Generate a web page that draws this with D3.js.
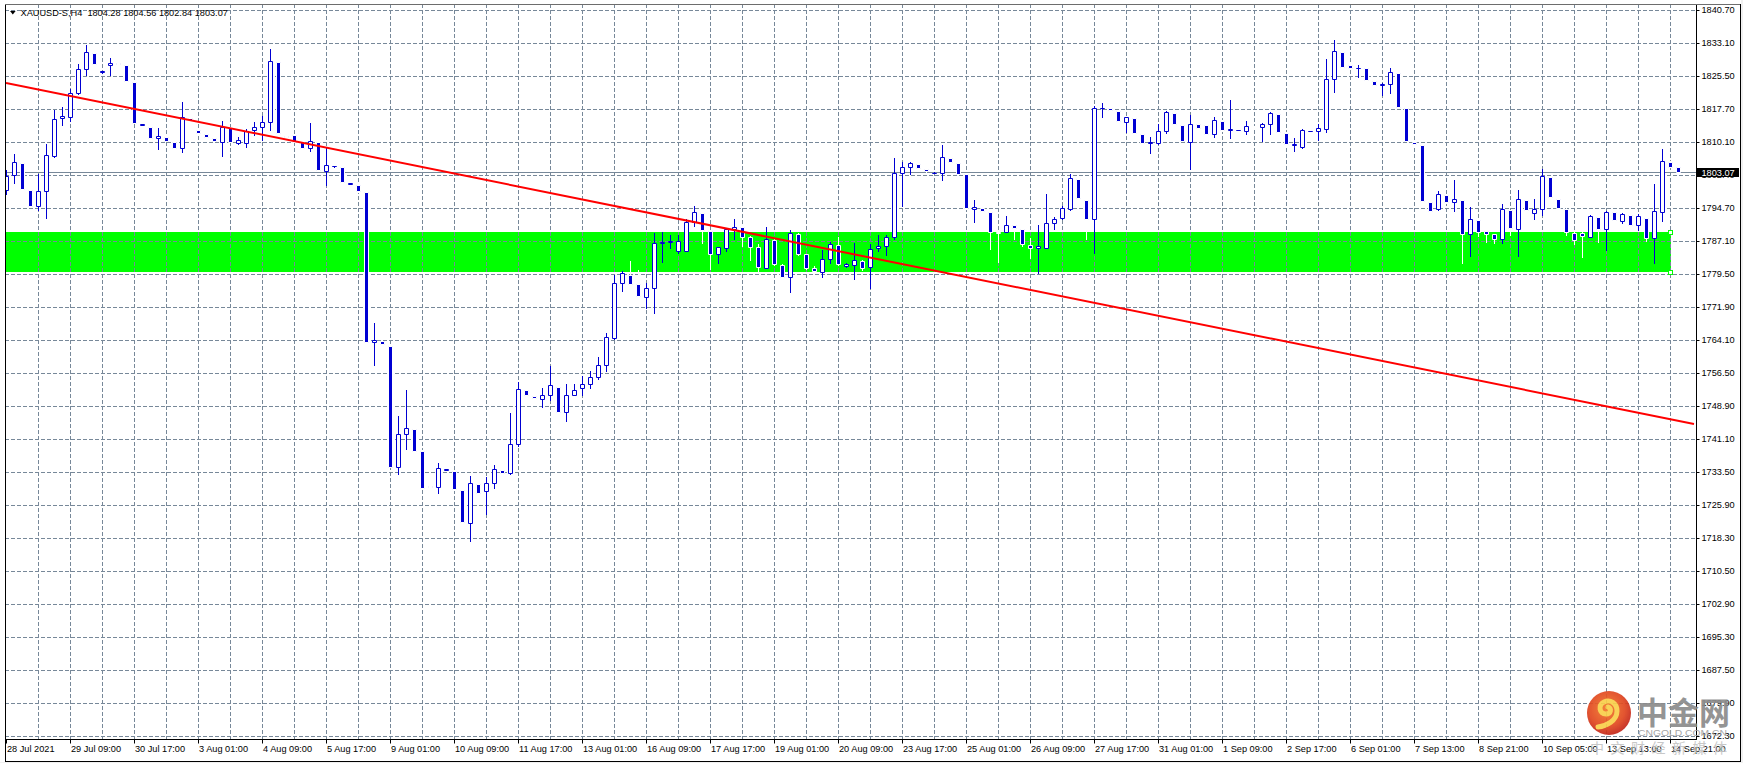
<!DOCTYPE html>
<html><head><meta charset="utf-8">
<script src="https://cdn.jsdelivr.net/npm/d3@7"></script>
<style>html,body{margin:0;padding:0;background:#fff;overflow:hidden}svg{display:block}</style>
</head><body>
<script>
// ---- data (H4 bars, 28 Jul 2021 01:00 .. 15 Sep 2021 01:00) ----
const opens = [1798.95,1802.35,1805.21,1798.95,1795.16,1798.64,1806.76,1815.57,1815.96,1821.37,
1826.94,1830.73,1826.35,1828.0,1828.4,1828.02,1824.00,1814.1,1813.56,1810.93,
1811.24,1810.08,1808.61,1815.65,1812.86,1811.86,1810.93,1810.16,1813.25,1809.93,
1809.93,1812.79,1813.48,1814.64,1828.64,1811.4,1811.7,1810.16,1808.61,1810.0,
1803.43,1804.4,1804.28,1800.45,1800.10,1798.48,1763.61,1763.84,1762.76,1734.62,
1742.27,1743.51,1738.41,1730.2,1729.98,1734.1,1733.77,1729.37,1721.79,1730.76,
1729.21,1730.91,1733.99,1733.22,1739.95,1752.55,1751.16,1750.39,1751.32,1753.33,
1747.38,1751.32,1752.94,1753.87,1755.65,1758.28,1764.70,1777.45,1779.31,1777.14,
1774.21,1776.14,1786.6,1786.9,1784.80,1784.80,1791.45,1793.53,1789.44,1784.02,
1785.57,1789.82,1790.29,1787.97,1785.80,1780.93,1787.35,1781.55,1778.69,1788.74,
1784.02,1780.78,1780.0,1782.86,1786.19,1781.32,1781.5,1782.56,1781.01,1785.42,
1786.04,1787.97,1802.97,1804.20,1804.90,1803.74,1802.9,1802.81,1806.29,1805.13,
1802.66,1794.46,1794.70,1793.77,1789.3,1789.13,1790.75,1789.90,1786.19,1785.42,
1785.57,1791.22,1792.37,1794.46,1801.42,1796.63,1792.14,1817.9,1817.89,1817.27,
1814.80,1815.57,1811.86,1809.9,1809.77,1812.56,1816.73,1813.95,1810.16,1814.18,
1813.95,1811.86,1814.95,1812.8,1812.8,1812.56,1813.6,1813.48,1814.18,1816.50,
1812.09,1809.5,1809.0,1812.6,1812.56,1813.17,1824.62,1830.96,1827.94,1827.2,
1827.17,1824.23,1823.3,1823.46,1826.01,1817.89,1810.0,1809.31,1796.09,1794.54,
1797.71,1796.09,1796.55,1788.66,1791.91,1789.36,1788.66,1787.50,1794.23,1789.98,
1796.55,1793.69,1794.46,1801.96,1796.86,1794.54,1788.9,1789.05,1788.12,1792.61,
1789.82,1793.77,1791.83,1793.15,1790.83,1792.45,1787.74,1793.92,1805.44,1804.28];
const highs = [1803.59,1807.30,1805.4,1799.2,1802.66,1809.54,1817.50,1818.20,1822.30,1828.17,
1832.58,1831.2,1826.6,1829.6,1828.6,1828.3,1824.2,1814.3,1813.8,1813.33,
1811.5,1810.3,1819.44,1815.9,1813.1,1812.1,1811.1,1814.87,1813.5,1811.16,
1813.10,1814.72,1816.19,1831.65,1828.9,1811.6,1811.9,1810.3,1814.49,1810.2,
1808.61,1804.5,1804.5,1800.6,1800.3,1798.7,1768.17,1764.0,1763.0,1746.52,
1752.55,1743.7,1738.6,1730.4,1735.55,1734.3,1734.0,1729.6,1732.61,1731.0,
1732.46,1735.16,1734.2,1747.14,1754.33,1752.8,1751.3,1752.94,1758.12,1753.5,
1753.87,1753.87,1755.80,1756.96,1760.13,1765.85,1779.23,1780.16,1782.48,1780.3,
1777.30,1789.05,1789.21,1788.43,1788.51,1792.30,1795.24,1793.8,1789.6,1785.80,
1790.06,1792.22,1790.5,1788.2,1786.5,1790.29,1787.6,1781.8,1789.67,1789.0,
1784.2,1781.3,1785.03,1786.96,1788.0,1782.0,1786.58,1782.7,1786.34,1788.51,
1788.51,1806.37,1805.44,1805.44,1805.1,1803.9,1803.1,1809.31,1806.5,1805.3,
1802.8,1796.63,1794.9,1794.0,1789.5,1792.92,1791.0,1790.1,1787.7,1790.83,
1798.02,1792.68,1795.24,1802.66,1801.6,1796.8,1818.51,1819.05,1818.1,1817.5,
1815.80,1815.8,1812.1,1811.16,1814.18,1817.35,1817.0,1814.2,1816.27,1814.4,
1814.2,1815.80,1815.2,1819.82,1812.9,1814.95,1813.8,1814.49,1817.12,1816.7,
1812.3,1810.93,1813.10,1812.7,1814.26,1829.33,1833.74,1831.2,1828.1,1827.86,
1827.4,1824.4,1823.69,1827.25,1826.2,1818.1,1810.2,1809.5,1796.3,1798.72,
1797.9,1801.27,1796.8,1794.93,1792.1,1789.5,1788.8,1795.70,1794.4,1798.95,
1796.8,1796.78,1803.74,1802.2,1797.1,1794.7,1789.1,1789.2,1793.15,1792.8,
1794.08,1794.0,1793.61,1793.4,1793.38,1792.7,1800.34,1808.46,1805.7,1804.56];
const lows = [1797.94,1800.65,1799.0,1795.0,1794.31,1792.53,1806.5,1814.02,1815.03,1821.1,
1825.70,1827.9,1826.2,1825.6,1827.9,1824.1,1814.4,1814.0,1810.8,1808.53,
1810.2,1808.6,1807.84,1815.0,1812.0,1811.0,1810.1,1806.83,1810.0,1809.62,
1808.84,1811.78,1810.54,1812.86,1812.0,1810.9,1810.0,1808.6,1808.07,1803.5,
1800.18,1804.3,1800.7,1800.4,1798.6,1763.6,1758.43,1763.1,1734.6,1733.07,
1738.79,1738.3,1729.7,1729.8,1728.59,1734.0,1729.4,1721.8,1717.61,1728.5,
1723.80,1729.75,1733.2,1732.99,1739.56,1751.2,1750.6,1748.69,1750.24,1747.3,
1745.44,1751.32,1751.32,1752.94,1755.18,1756.89,1764.31,1775.60,1777.0,1774.2,
1771.65,1770.49,1782.32,1785.57,1784.26,1784.80,1790.60,1786.58,1780.55,1782.09,
1784.80,1787.58,1785.96,1782.71,1780.0,1780.78,1781.5,1778.7,1775.37,1783.8,
1780.6,1780.1,1778.69,1782.09,1781.6,1781.1,1778.23,1780.5,1776.29,1784.88,
1783.87,1787.50,1795.24,1802.66,1804.0,1803.2,1802.8,1801.27,1805.3,1802.5,
1794.5,1791.60,1794.0,1785.34,1782.32,1789.13,1787.5,1785.9,1783.10,1779.77,
1785.42,1789.90,1792.14,1794.31,1796.8,1787.66,1784.26,1815.80,1817.3,1814.8,
1812.48,1812.0,1809.7,1807.61,1809.62,1812.09,1814.1,1810.2,1803.89,1813.2,
1811.7,1811.32,1812.6,1811.09,1812.8,1811.94,1813.3,1810.31,1811.94,1812.3,
1809.5,1808.07,1808.77,1812.6,1810.54,1812.48,1821.76,1827.3,1827.1,1825.24,
1824.3,1823.2,1820.98,1821.52,1818.1,1810.2,1809.5,1796.3,1794.0,1794.31,
1796.0,1794.15,1782.09,1783.64,1788.3,1786.8,1786.6,1786.73,1788.6,1783.64,
1794.1,1792.30,1793.07,1797.2,1794.6,1788.5,1786.5,1783.49,1787.97,1786.9,
1785.03,1791.8,1791.37,1790.7,1789.67,1787.2,1782.09,1791.83,1804.2,1802.84];
const closes = [1802.27,1805.36,1799.26,1795.31,1798.64,1806.99,1815.34,1816.04,1821.37,1826.94,
1830.88,1828.25,1826.45,1828.4,1828.2,1824.31,1814.57,1814.2,1811.01,1811.40,
1810.39,1808.77,1815.80,1815.18,1812.25,1811.24,1810.31,1813.48,1810.16,1810.47,
1812.63,1813.48,1814.64,1828.79,1812.25,1811.2,1810.16,1808.77,1810.24,1803.66,
1804.67,1804.45,1800.88,1800.5,1798.79,1763.77,1764.15,1763.30,1734.77,1742.27,
1743.74,1738.48,1729.90,1730.0,1734.39,1734.2,1729.60,1722.02,1730.91,1728.74,
1730.91,1734.16,1733.38,1739.95,1752.71,1751.39,1750.78,1751.32,1753.64,1747.53,
1751.32,1752.48,1753.87,1755.65,1758.28,1764.77,1777.45,1779.62,1777.14,1774.36,
1776.14,1786.58,1786.8,1787.1,1787.20,1791.45,1793.77,1789.67,1784.02,1785.80,
1789.82,1790.44,1788.12,1785.80,1781.01,1787.50,1781.70,1778.85,1788.90,1784.02,
1780.78,1780.24,1782.86,1786.34,1781.78,1781.70,1782.6,1780.78,1785.34,1786.04,
1787.97,1802.97,1804.20,1805.13,1804.13,1803.35,1803.0,1806.52,1805.52,1802.66,
1794.70,1794.93,1794.15,1789.28,1789.0,1790.75,1790.21,1786.34,1785.42,1785.88,
1791.22,1792.14,1794.70,1801.65,1797.01,1792.30,1817.89,1818.0,1817.50,1815.03,
1815.80,1812.25,1809.93,1810.0,1812.56,1816.96,1814.33,1810.39,1814.18,1813.41,
1811.94,1815.18,1812.86,1813.1,1812.9,1813.72,1813.45,1814.18,1816.73,1812.48,
1809.70,1809.6,1812.86,1812.65,1813.25,1824.62,1831.11,1827.56,1827.32,1827.3,
1824.54,1823.38,1823.45,1826.24,1818.28,1810.39,1809.70,1796.47,1794.15,1797.94,
1796.24,1796.78,1788.74,1792.14,1789.28,1788.74,1787.50,1794.46,1790.21,1796.78,
1794.31,1794.46,1802.19,1797.40,1794.85,1789.20,1787.35,1788.27,1792.92,1789.98,
1793.77,1792.0,1793.38,1790.91,1792.92,1787.74,1794.08,1805.59,1804.36,1803.07];

const timeLabels = ["28 Jul 2021","29 Jul 09:00","30 Jul 17:00","3 Aug 01:00","4 Aug 09:00","5 Aug 17:00",
"9 Aug 01:00","10 Aug 09:00","11 Aug 17:00","13 Aug 01:00","16 Aug 09:00","17 Aug 17:00","19 Aug 01:00",
"20 Aug 09:00","23 Aug 17:00","25 Aug 01:00","26 Aug 09:00","27 Aug 17:00","31 Aug 01:00","1 Sep 09:00",
"2 Sep 17:00","6 Sep 01:00","7 Sep 13:00","8 Sep 21:00","10 Sep 05:00","13 Sep 13:00","14 Sep 21:00"];
const priceTicks = [1840.70,1833.10,1825.50,1817.70,1810.10,1802.40,1794.70,1787.10,1779.50,1771.90,
1764.10,1756.50,1748.90,1741.10,1733.50,1725.90,1718.30,1710.50,1702.90,1695.30,1687.50,1679.90,1672.30];
const lastPrice = 1803.07;
const titleText = "XAUUSD-S,H4  1804.28 1804.56 1802.84 1803.07";
const zonePrices = [1789.1, 1780.0];      // support rectangle top / bottom
const zoneBars = [-6, 208];               // rectangle start / end bar
const trendBars = [0, 211];               // trend line anchors (bar index)
const trendPrices = [1823.8, 1744.7];     // trend line anchors (price)

// ---- layout ----
const W = 1743, H = 763;
const L = 5, R = 1696, T = 4, B = 739;
const BLUE = "#0000d2", GRID = "#778899";
const FONT = "'Liberation Sans', Arial, sans-serif";
const FS = 9.2;

const x = d3.scaleLinear().domain([0, 209]).range([6, 1678]).interpolate(d3.interpolateRound);
const y = d3.scaleLinear().domain([1672.3, 1840.7]).range([736, 10]).interpolate(d3.interpolateRound);

const svg = d3.select("body").append("svg").attr("width", W).attr("height", H)
  .style("font-family", FONT);
svg.append("rect").attr("width", W).attr("height", H).attr("fill", "#fff");

const defs = svg.append("defs");
defs.append("clipPath").attr("id", "plot").append("rect")
  .attr("x", L + 1).attr("y", T + 1).attr("width", R - L - 1).attr("height", B - T - 1);

const plot = svg.append("g").attr("clip-path", "url(#plot)");

// support zone
plot.append("rect")
  .attr("x", x(zoneBars[0])).attr("y", y(zonePrices[0]))
  .attr("width", x(zoneBars[1]) + 1 - x(zoneBars[0]))
  .attr("height", y(zonePrices[1]) - y(zonePrices[0]))
  .attr("fill", "#00ff00");

// grid
const grid = plot.append("g").attr("stroke", GRID).attr("stroke-width", 1).attr("stroke-dasharray", "4,2");
grid.selectAll("line.h").data(priceTicks).join("line").attr("class", "h")
  .attr("x1", L).attr("x2", R).attr("y1", d => y(d) + 0.5).attr("y2", d => y(d) + 0.5);
grid.selectAll("line.v").data(d3.range(4, 210, 4)).join("line").attr("class", "v")
  .attr("y1", T).attr("y2", B).attr("x1", d => x(d) + 0.5).attr("x2", d => x(d) + 0.5);

// bid line
plot.append("line").attr("x1", L).attr("x2", R)
  .attr("y1", y(lastPrice) + 0.5).attr("y2", y(lastPrice) + 0.5)
  .attr("stroke", GRID).attr("stroke-width", 1);

// candles
const idx = d3.range(opens.length);
const cg = plot.append("g");
const cand = cg.selectAll("g").data(idx).join("g");
cand.append("line")
  .attr("x1", i => x(i) + 0.5).attr("x2", i => x(i) + 0.5)
  .attr("y1", i => y(highs[i])).attr("y2", i => y(lows[i]) + 1)
  .attr("stroke", i => closes[i] < opens[i] ? "#ffffff" : BLUE).attr("stroke-width", 1);
cand.append("path")
  .attr("d", i => {
    const yt = Math.min(y(opens[i]), y(closes[i]));
    const yb = Math.max(y(opens[i]), y(closes[i]));
    return `M${x(i) - 1.5},${yt + 0.5}h4v${yb - yt}h-4Z`;
  })
  .attr("fill", i => closes[i] < opens[i] ? BLUE : "#ffffff")
  .attr("stroke", i => closes[i] < opens[i] ? "#ffffff" : BLUE)
  .attr("stroke-width", 1);

// trend line
plot.append("path")
  .datum(trendBars.map((b, k) => [b, trendPrices[k]]))
  .attr("d", d3.line().x(d => x(d[0])).y(d => y(d[1])))
  .attr("fill", "none").attr("stroke", "#ff0000").attr("stroke-width", 2);

// rectangle anchor points
plot.selectAll("rect.anchor").data(zonePrices).join("rect").attr("class", "anchor")
  .attr("x", x(zoneBars[1]) - 1.5).attr("y", d => y(d) - 1.5)
  .attr("width", 4).attr("height", 4)
  .attr("fill", "#fff").attr("stroke", "#00ff00").attr("stroke-width", 1);

// axes
const yAxis = svg.append("g").attr("transform", `translate(${R + 0.5},0)`)
  .call(d3.axisRight(y).tickValues(priceTicks).tickFormat(d3.format(".2f")).tickSize(3).tickPadding(2));
yAxis.select(".domain").remove();
yAxis.selectAll("text").attr("font-size", FS).attr("font-family", FONT).attr("fill", "#000");
yAxis.selectAll("line").attr("stroke", "#000");

const xAxis = svg.append("g").attr("transform", `translate(0,${B + 0.5})`)
  .call(d3.axisBottom(x).tickValues(d3.range(0, 210, 8)).tickFormat((d, k) => timeLabels[k]).tickSize(4).tickPadding(2));
xAxis.select(".domain").remove();
xAxis.selectAll("text").attr("font-size", FS).attr("font-family", FONT).attr("fill", "#000")
  .attr("text-anchor", "start").attr("x", 0.5);
xAxis.selectAll("line").attr("stroke", "#000");

// axis lines / frame
svg.append("line").attr("x1", R + 0.5).attr("x2", R + 0.5).attr("y1", T).attr("y2", B + 1).attr("stroke", "#000");
svg.append("line").attr("x1", L).attr("x2", R + 1).attr("y1", B + 0.5).attr("y2", B + 0.5).attr("stroke", "#000");
svg.append("line").attr("x1", L + 0.5).attr("x2", L + 0.5).attr("y1", T).attr("y2", 762).attr("stroke", "#000");
svg.append("line").attr("x1", L).attr("x2", 1741).attr("y1", T + 0.5).attr("y2", T + 0.5).attr("stroke", "#6d6d6d");
svg.append("line").attr("x1", 1740.5).attr("x2", 1740.5).attr("y1", T).attr("y2", 762).attr("stroke", "#000");
svg.append("line").attr("x1", L).attr("x2", 1741).attr("y1", 761.5).attr("y2", 761.5).attr("stroke", "#000");
svg.append("rect").attr("x", 1741).attr("y", 0).attr("width", 2).attr("height", H).attr("fill", "#f0f0f0");
svg.append("rect").attr("x", 0).attr("y", 762).attr("width", W).attr("height", 1).attr("fill", "#f0f0f0");

// bid label
const by = y(lastPrice);
svg.append("rect").attr("x", R + 1).attr("y", by - 4).attr("width", 42).attr("height", 9).attr("fill", "#000");
svg.append("text").attr("x", R + 5.5).attr("y", by + 3.6).attr("font-size", FS).attr("fill", "#fff")
  .text(d3.format(".2f")(lastPrice));

// title
svg.append("path").attr("d", "M10,11L15.6,11L12.8,14.6Z").attr("fill", "#000");
svg.append("text").attr("x", 20.5).attr("y", 16).attr("font-size", FS).attr("fill", "#000")
  .style("white-space", "pre").text(titleText);

// watermark
const wm = svg.append("g").attr("opacity", 0.92);
const grad = defs.append("radialGradient").attr("id", "lg").attr("cx", "45%").attr("cy", "40%").attr("r", "60%");
grad.append("stop").attr("offset", "0%").attr("stop-color", "#f47a2a");
grad.append("stop").attr("offset", "70%").attr("stop-color", "#e0461f");
grad.append("stop").attr("offset", "100%").attr("stop-color", "#c3261a");
wm.append("circle").attr("cx", 1609).attr("cy", 713).attr("r", 22).attr("fill", "url(#lg)");
wm.append("path")
  .attr("d", "M1598,727 C1606,726 1617,721 1617,711 C1617,703 1610,699 1604,702 C1598,705 1599,714 1606,714 C1611,714 1612,708 1608,707")
  .attr("fill", "none").attr("stroke", "#f9cf4a").attr("stroke-width", 5).attr("stroke-linecap", "round");
wm.append("text").attr("x", 1637).attr("y", 724).attr("font-size", 31).attr("font-weight", "bold")
  .attr("font-family", "'Noto Sans CJK SC', sans-serif").attr("fill", "#8c8c8c").text("中金网");
wm.append("text").attr("x", 1638).attr("y", 735.5).attr("font-size", 9).attr("fill", "#a0a0a0")
  .attr("textLength", 89).attr("lengthAdjust", "spacingAndGlyphs").text("CNGOLD.COM.CN");
wm.selectAll("text.sub").data(["中","文","财","经","新","媒","体"]).join("text").attr("class", "sub")
  .attr("x", (d, k) => 1590 + k * 20.5).attr("y", 753).attr("font-size", 14)
  .attr("font-family", "'Noto Sans CJK SC', sans-serif").attr("fill", "#c4c4c4").text(d => d);
</script>
</body></html>
